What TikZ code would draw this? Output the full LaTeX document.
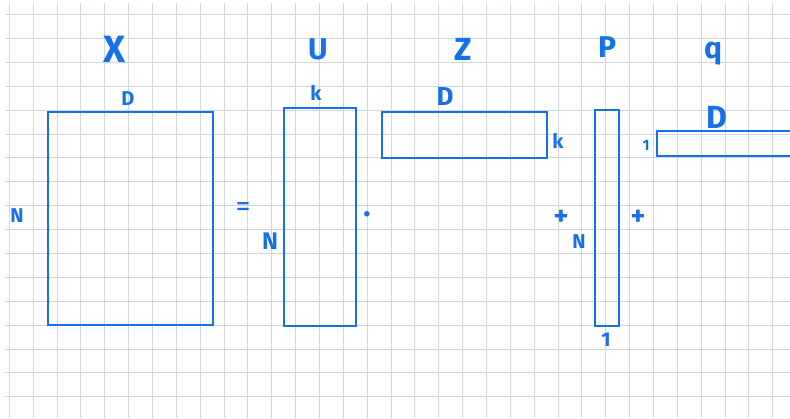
\documentclass[tikz,border=0pt]{standalone}
\usepackage{fontspec}
\setmainfont{Fira Sans}
\usepackage{xcolor}
\definecolor{inkblue}{RGB}{22,112,232}
\definecolor{gridgray}{RGB}{208,214,228}

\begin{document}
\begin{tikzpicture}[
        x=1pt, y=-1pt,
        gridline/.style={gridgray, line width=1pt},
        mat/.style={draw=inkblue, line width=1.6pt, inner sep=0pt, outer sep=0pt},
        lbl/.style={text=inkblue, inner sep=0pt, font=\fontsize{20}{20}\selectfont\bfseries},
        matname/.style={text=inkblue, inner sep=0pt, font=\fontsize{30}{30}\selectfont\bfseries}
    ]
    \clip (0,0) rectangle (790,418);
    \fill[white] (0,0) rectangle (790,418);
    % squared paper
    \foreach \i in {0,...,32}
        \draw[gridline] (9.3+23.86*\i,3) -- (9.3+23.86*\i,418);
    \foreach \j in {0,...,16}
        \draw[gridline] (5,14.7+23.88*\j) -- (790,14.7+23.88*\j);

    % matrices
    \node[mat, minimum width=165, minimum height=213] (matX) at (130.5,218.5) {};
    \node[mat, minimum width=72, minimum height=218] (matU) at (320,217) {};
    \node[mat, minimum width=165, minimum height=46] (matZ) at (464.5,135) {};
    \node[mat, minimum width=24, minimum height=216] (matP) at (607,218) {};
    \node[mat, minimum width=160, minimum height=25] (matQ) at (737,143.5) {};

    % names
    \node[matname, font=\fontsize{38}{38}\selectfont\bfseries] (nX) at (115,49) {X};
    \node[matname] (nU) at (318,49) {U};
    \node[matname, font=\fontsize{32}{32}\selectfont\bfseries] (nZ) at (463,49) {Z};
    \node[matname] (nP) at (607,47) {P};
    \node[matname] (nq) at (713,54) {q};

    % sizes
    \node[lbl] (dX) at (128,99) {D};
    \node[lbl] (kU) at (316,93) {k};
    \node[lbl, font=\fontsize{26}{26}\selectfont\bfseries] (dZ) at (445,96) {D};
    \node[lbl] (kZ) at (558,141) {k};
    \node[lbl, font=\fontsize{32}{32}\selectfont\bfseries] (dQ) at (717,117) {D};
    \node[lbl, font=\fontsize{15}{15}\selectfont\bfseries] (oneQ) at (646,145) {1};
    \node[lbl] (nXside) at (17,216) {N};
    \node[lbl, font=\fontsize{24}{24}\selectfont\bfseries] (nUside) at (270,241) {N};
    \node[lbl] (nPside) at (579,242) {N};
    \node[lbl] (oneP) at (606,340) {1};

    % operators
    \node[lbl, font=\fontsize{30}{30}\selectfont] (eq) at (243,210) {=};
    \node[lbl, font=\fontsize{30}{30}\selectfont\bfseries] (dot) at (367,218) {·};
    \node[lbl, font=\fontsize{28}{28}\selectfont\bfseries] (plusL) at (561,218) {+};
    \node[lbl, font=\fontsize{28}{28}\selectfont\bfseries] (plusR) at (638,218) {+};
\end{tikzpicture}
\end{document}
